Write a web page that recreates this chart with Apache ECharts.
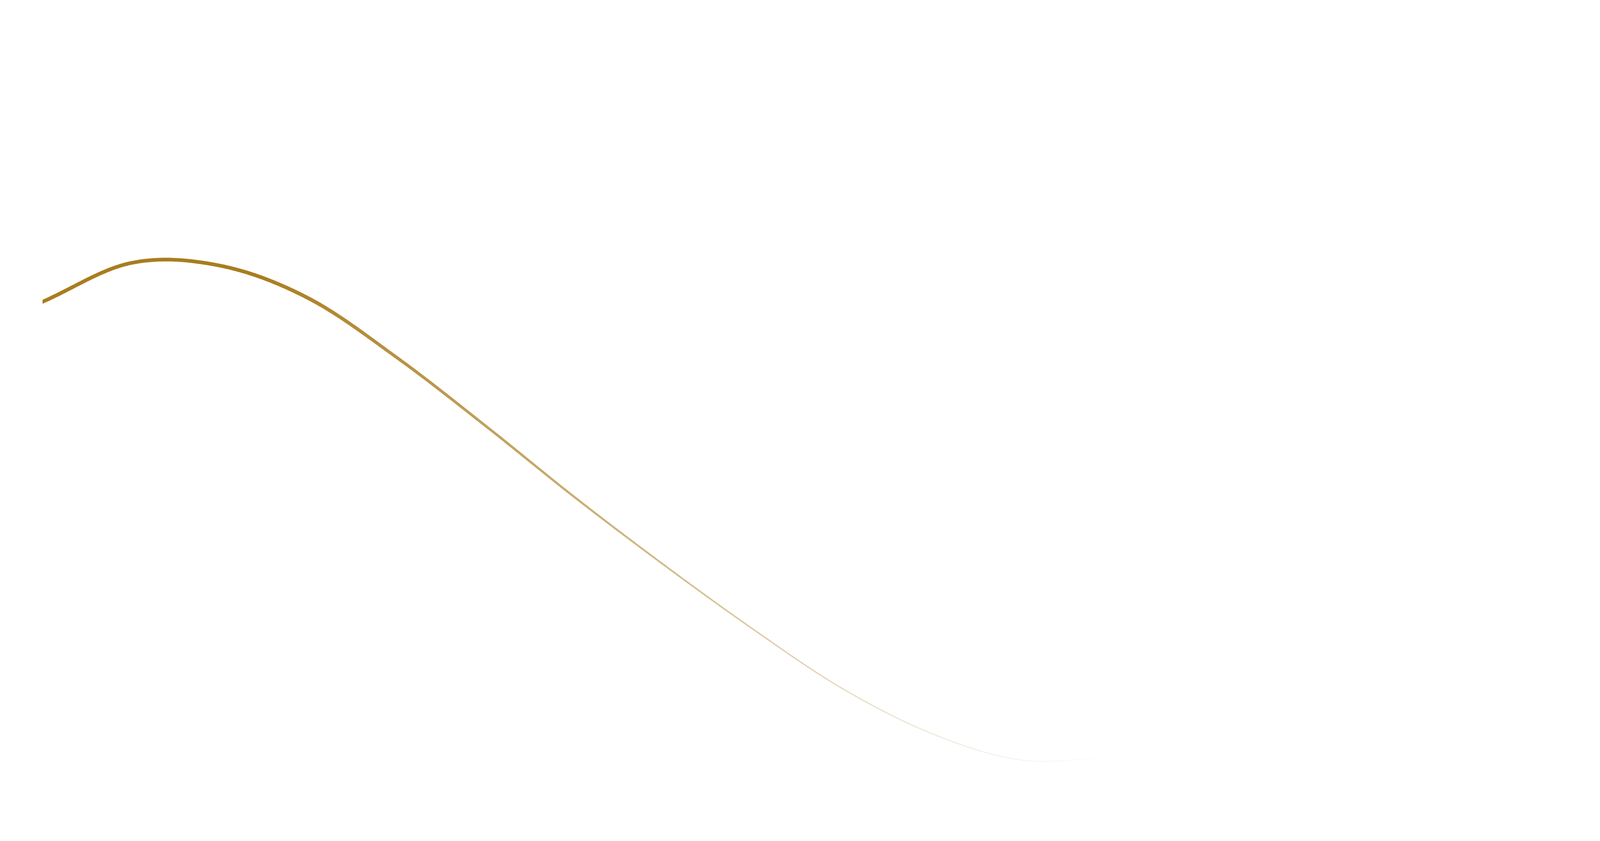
<!DOCTYPE HTML>
<html>
<meta charset="utf-8"/>
<style>
html,body{margin:0;padding:0;background:#fff;}
#main{width:100vw;height:100vh;}
</style>
<script src="https://cdn.jsdelivr.net/npm/echarts@6/dist/echarts.min.js"></script>
<body>
<div id="main"></div>
<script>
// data
var xSteps = [0, 1, 2, 3, 4, 5, 6, 7, 8, 9, 10, 11, 12];
var curveValues = [87.7, 94.8, 94.3, 88.3, 77.4, 64.9, 51.9, 39.6, 27.9, 17.1, 8.9, 4.0, 4.3];

var gold = '169,125,31';

function catmull(p0, p1, p2, p3, t){
    var t2 = t * t, t3 = t2 * t;
    return 0.5 * ((2 * p1) + (-p0 + p2) * t + (2 * p0 - 5 * p1 + 4 * p2 - p3) * t2 + (-p0 + 3 * p1 - 3 * p2 + p3) * t3);
}

function renderRibbon(params, api){
    if (params.dataIndex !== 0) {
        return {type: 'group', children: []};
    }
    var pts = [];
    for (var i = 0; i < xSteps.length; i++) {
        pts.push(api.coord([xSteps[i], curveValues[i]]));
    }
    var n = pts.length;
    // mirrored end points so the curve keeps its slope at both ends
    var first = [2 * pts[0][0] - pts[1][0], 2 * pts[0][1] - pts[1][1]];
    var last = [2 * pts[n - 1][0] - pts[n - 2][0], 2 * pts[n - 1][1] - pts[n - 2][1]];
    var ext = [first].concat(pts, [last]);
    // smooth centre line
    var line = [], steps = 40;
    for (var s = 1; s < ext.length - 2; s++) {
        var a = ext[s - 1], b = ext[s], c = ext[s + 1], d = ext[s + 2];
        for (var k = 0; k < steps; k++) {
            var t = k / steps;
            line.push([catmull(a[0], b[0], c[0], d[0], t), catmull(a[1], b[1], c[1], d[1], t)]);
        }
    }
    line.push(pts[n - 1]);
    // ribbon getting thinner to the right
    var x0 = line[0][0], x1 = line[line.length - 1][0];
    var thinFrom = x0 + (x1 - x0) * 0.25, thinTo = x0 + (x1 - x0) * 0.96;
    var top = [], bottom = [];
    for (var j = 0; j < line.length; j++) {
        var p = line[j];
        var q0 = line[Math.max(j - 1, 0)], q1 = line[Math.min(j + 1, line.length - 1)];
        var slope = (q1[1] - q0[1]) / ((q1[0] - q0[0]) || 1);
        var u = Math.min(Math.max((p[0] - thinFrom) / (thinTo - thinFrom), 0), 1);
        var w = 1.9 + 7.5 * Math.pow(1 - u, 1.7);
        var hv = w * Math.sqrt(1 + slope * slope) / 2;
        top.push([p[0], p[1] - hv]);
        bottom.unshift([p[0], p[1] + hv]);
    }
    return {
        type: 'polygon',
        shape: {points: top.concat(bottom)},
        style: {
            fill: new echarts.graphic.LinearGradient(x0, 0, x1, 0, [
                {offset: 0, color: 'rgba(' + gold + ',1)'},
                {offset: 0.2, color: 'rgba(' + gold + ',1)'},
                {offset: 1, color: 'rgba(' + gold + ',0)'}
            ], true)
        }
    };
}

var myChart = echarts.init(document.getElementById('main'));
var seriesData = [];
for (var i = 0; i < xSteps.length; i++) {
    seriesData.push([xSteps[i], curveValues[i]]);
}
var option = {
    animation: false,
    grid: {left: 109, right: 1260, top: 600, bottom: 152},
    xAxis: {type: 'value', min: 0, max: 12, show: false},
    yAxis: {type: 'value', min: 0, max: 100, show: false},
    series: [{
        type: 'custom',
        clip: false,
        renderItem: renderRibbon,
        data: seriesData
    }]
};
myChart.setOption(option);
</script>
</body>
</html>
